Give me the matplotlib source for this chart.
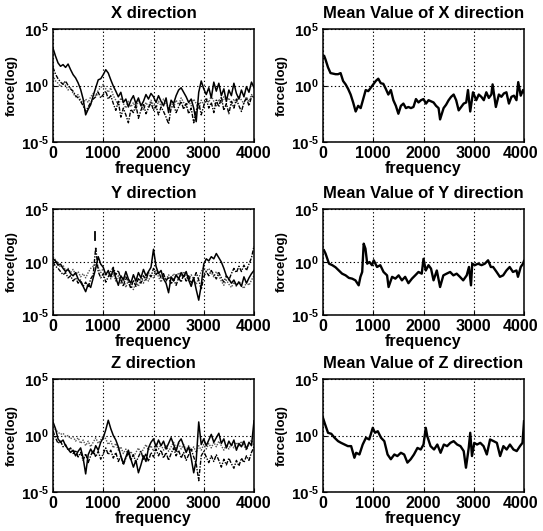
import numpy as np
import matplotlib
matplotlib.use("Agg")
import matplotlib.pyplot as plt
import matplotlib.transforms as mtransforms
from matplotlib.ticker import FixedLocator, NullLocator, FuncFormatter

plt.rcParams['font.family'] = ['Liberation Sans', 'DejaVu Sans']
plt.rcParams['font.weight'] = 'bold'
plt.rcParams['mathtext.fontset'] = 'custom'
plt.rcParams['mathtext.rm'] = 'Liberation Sans:bold'
plt.rcParams['mathtext.bf'] = 'Liberation Sans:bold'
plt.rcParams['mathtext.default'] = 'bf'

# ---------------- data (log10 of force) ----------------
freq50 = list(range(0, 4001, 50))

x_solid = [3.3, 2.6, 2.0, 1.7, 1.85, 1.6, 1.9, 1.4, 0.96, 0.67, 0.23, -0.35, -1.2, -2.6, -2.1, -1.7,
           -0.9, -0.2, 0.5, 0.6, 0.96, 1.4, 1.1, 0.5, -0.05, -0.5, -1.0, -0.6, -1.5, -1.2, -1.9, -1.3,
           -0.9, -1.6, -1.1, -1.8, -1.4, -0.8, -1.2, -0.7, -1.0, -1.5, -0.9, -1.4, -1.8, -1.1, -2.4,
           -1.3, -1.6, -0.9, -0.4, -0.2, -0.6, -1.0, -1.5, -1.2, -2.0, -3.2, -0.6, 0.4, -0.3, -0.8,
           -0.2, -1.1, 0.3, -0.5, 0.2, -0.9, -0.3, -1.4, -0.4, -0.9, 0.2, -0.7, -1.2, -0.4, -1.0,
           -0.1, -0.6, 0.3, -0.2]
x_dash = [1.6, 1.0, 0.6, 0.3, 0.1, 0.4, 0.0, -0.3, -0.5, -0.9, -1.1, -1.4, -1.8, -2.3, -1.9, -1.5,
          -1.2, -1.0, -0.6, -1.1, -0.8, -0.5, -1.2, -0.9, -1.6, -2.2, -1.4, -2.8, -2.0, -2.6, -3.3,
          -2.1, -2.4, -1.7, -2.9, -2.2, -1.6, -2.5, -2.0, -1.5, -2.2, -1.8, -2.6, -1.9, -2.3, -2.8,
          -3.4, -2.0, -1.7, -2.4, -1.9, -1.4, -2.1, -1.6, -2.5, -2.0, -3.3, -2.2, -1.5, -2.6, -1.8,
          -1.2, -2.0, -1.5, -2.4, -1.3, -1.9, -1.0, -2.2, -1.6, -2.5, -1.4, -2.0, -1.2, -1.8, -2.3,
          -1.5, -1.1, -1.8, -1.0, -0.9]
x_dot = [0.9, 0.4, 0.2, -0.1, 0.3, 0.0, -0.4, -0.2, -0.7, -1.0, -0.8, -1.3, -1.6, -1.2, -1.5, -1.0,
         -0.7, -0.9, -0.4, -0.2, 0.1, -0.3, -0.6, -0.2, -0.9, -1.3, -1.8, -1.1, -1.6, -2.0, -1.4,
         -1.9, -1.5, -2.1, -1.3, -1.7, -2.2, -1.5, -1.9, -1.3, -1.7, -2.0, -1.4, -1.8, -1.2, -1.6,
         -2.0, -1.5, -1.9, -1.3, -1.7, -1.1, -1.5, -1.9, -1.4, -1.8, -1.2, -1.6, -2.1, -1.3, -1.7,
         -1.1, -1.5, -0.9, -1.4, -1.8, -1.2, -1.6, -1.0, -1.4, -1.1, -1.7, -1.2, -1.5, -0.9, -1.3,
         -1.6, -1.0, -1.4, -0.8, -1.1]

y_solid = [0.3, 0.1, -0.3, -0.2, -0.6, -0.9, -0.7, -1.1, -1.3, -1.0, -1.6, -1.9, -2.3, -2.8, -2.1,
           -2.4, -1.5, -0.6, 0.5, -0.2, -0.5, -1.2, -0.8, -1.4, -0.7, -1.5, -2.2, -1.3, -1.7, -0.9,
           -1.6, -2.0, -1.2, -1.8, -1.0, -1.5, -0.7, -1.3, -0.9, -0.5, 1.2, -0.4, -1.1, -0.8, -1.6,
           -2.0, -2.9, -1.4, -1.8, -1.2, -1.6, -1.0, -1.4, -0.9, -1.7, -2.3, -1.5, -2.6, -3.6, -2.2,
           -0.2, 0.3, 0.1, 0.5, 0.3, 0.8, 0.4, 0.0, -0.6, -1.3, -1.6, -2.0, -1.7, -2.2, -1.9, -2.3,
           -1.4, -2.0, -1.5, -1.1, -0.8]
y_dash = [0.0, -0.4, -0.6, -0.9, -1.2, -1.0, -1.5, -1.3, -1.8, -1.5, -2.0, -1.7, -2.3, -1.9, -2.4,
          -1.6, -1.2, 1.4, -0.9, -1.5, -1.1, -1.9, -1.4, -0.9, -0.5, -1.2, -0.8, -1.6, -2.3, -1.4,
          -1.9, -2.5, -1.7, -2.3, -1.5, -2.0, -1.3, -1.7, -1.0, -1.4, -0.6, -1.2, -0.9, -1.5, -1.1,
          -1.8, -1.4, -2.1, -1.6, -2.2, -1.5, -1.9, -1.2, -1.8, -1.3, -2.0, -1.6, -1.0, -1.7, -2.6,
          -1.4, -0.9, -1.3, -0.8, -1.2, -1.6, -1.0, -1.5, -1.9, -1.3, -1.7, -1.1, -0.6, -1.0, -0.4,
          -0.9, -0.3, -0.8, -0.2, 0.4, 1.5]
y_dot = [0.5, 0.2, -0.1, -0.5, -0.3, -0.8, -0.6, -1.0, -0.7, -1.2, -0.9, -1.4, -1.1, -1.5, -1.0,
         -0.6, -0.4, -0.2, -0.5, -1.0, -0.6, -1.3, -0.9, -1.6, -1.1, -1.8, -1.3, -2.0, -1.4, -2.4,
         -1.7, -2.2, -2.6, -1.9, -2.3, -1.5, -2.0, -1.4, -1.8, -1.2, -1.5, -0.8, -1.4, -1.9, -1.3,
         -1.7, -1.2, -1.6, -1.1, -1.5, -1.0, -1.4, -0.9, -1.3, -1.8, -1.2, -1.6, -2.1, -1.5, -0.9,
         -0.5, -0.9, -0.6, -1.0, -1.4, -0.9, -1.3, -1.8, -2.2, -1.7, -2.1, -2.4, -1.9, -2.3, -1.8,
         -2.2, -2.5, -1.9, -2.2, -1.7, -1.3]
# isolated short spike segment near 830 Hz (Y direction)
y_spike_freq = [830, 830]
y_spike = [2.1, 2.8]

z_solid = [1.2, 0.6, -0.3, -0.6, -0.4, -0.9, -1.2, -1.5, -1.3, -1.8, -1.4, -1.1, -2.0, -3.4, -1.7,
           -1.2, -1.6, -0.9, -1.3, -0.6, -0.2, 0.5, 1.35, 0.6, 0.0, -0.4, -1.0, -1.8, -2.5, -1.9,
           -1.3, -2.1, -2.8, -2.2, -3.3, -2.6, -1.8, -2.3, -1.1, -0.6, -0.3, -1.0, -0.4, -0.9, -0.5,
           -1.2, -0.7, -0.2, -0.8, -1.4, -0.6, -0.3, -0.9, -1.5, -1.0, -2.0, -3.3, -2.2, 1.2, -0.8,
           -0.3, -0.9, -0.4, 0.1, -0.6, -0.2, 0.2, -0.7, -0.3, -1.1, -0.5, -0.9, -0.4, -1.3, -0.7,
           -1.0, -0.5, -1.2, -0.6, -0.9, 1.3]
z_dash = [0.4, -0.2, -0.7, -0.5, -1.0, -0.8, -1.3, -1.1, -1.6, -1.3, -1.9, -1.5, -2.2, -1.6, -2.4,
          -1.8, -1.3, -1.9, -1.4, -2.1, -1.6, -1.1, -1.7, -1.3, -2.0, -1.5, -2.3, -1.8, -2.6, -2.0,
          -1.5, -2.2, -1.7, -2.4, -1.9, -1.4, -2.1, -1.6, -2.3, -1.5, -1.9, -1.2, -1.8, -1.3, -2.0,
          -1.5, -2.2, -1.6, -1.1, -1.8, -1.3, -2.0, -1.5, -2.2, -1.7, -1.2, -1.9, -2.5, -4.0, -1.8,
          -1.4, -1.9, -2.4, -1.8, -2.3, -1.7, -2.2, -2.8, -2.1, -2.6, -2.0, -2.5, -2.9, -2.2, -2.7,
          -2.0, -2.4, -1.8, -2.2, -1.5, -1.0]
z_dot = [0.8, 0.5, 0.3, 0.1, 0.2, -0.1, 0.0, -0.3, -0.1, -0.5, -0.2, -0.7, -0.4, -0.9, -0.5, -1.0,
         -0.6, -0.2, -0.7, -0.4, 0.0, -0.3, -0.8, -0.5, -1.1, -0.7, -1.3, -1.0, -1.6, -1.2, -1.8,
         -1.4, -1.9, -1.5, -1.1, -1.6, -1.2, -0.8, -1.3, -0.9, -1.4, -0.7, -1.2, -0.8, -1.3, -0.9,
         -1.4, -1.0, -0.6, -1.1, -0.7, -1.2, -0.8, -1.3, -0.9, -1.4, -1.0, -1.5, -0.9, -1.3, -0.8,
         -1.2, -0.7, -1.1, -0.6, -1.0, -0.5, -0.9, -1.3, -0.8, -1.2, -0.7, -1.1, -0.6, -1.0, -0.5,
         -0.9, -1.3, -0.8, -0.4, -0.9]

mean_x_freq = [25, 50, 100, 150, 200, 250, 300, 350, 400, 450, 500, 550, 600, 650, 700, 750, 800,
               850, 900, 950, 1000, 1050, 1100, 1150, 1200, 1250, 1300, 1350, 1400, 1450, 1500,
               1550, 1600, 1650, 1700, 1750, 1800, 1850, 1900, 1950, 2000, 2050, 2100, 2150, 2200,
               2250, 2300, 2330, 2400, 2450, 2500, 2550, 2600, 2650, 2700, 2750, 2800, 2850, 2885,
               2930, 2985, 3050, 3100, 3150, 3200, 3250, 3300, 3350, 3375, 3440, 3500, 3550, 3600,
               3650, 3700, 3750, 3800, 3850, 3885, 3935, 3980, 4000]
mean_x = [2.6, 2.3, 1.6, 1.1, 1.05, 1.0, 1.0, 1.1, 0.4, 0.1, -0.3, -0.8, -1.5, -2.3, -1.8, -2.0,
          -1.2, -0.4, -0.5, -0.2, 0.1, 0.4, 0.6, 0.2, 0.15, -0.3, -0.8, -0.4, -1.3, -1.8, -2.5,
          -1.8, -1.6, -2.0, -1.9, -2.0, -1.9, -1.2, -1.5, -1.3, -1.2, -1.6, -1.3, -1.4, -1.5, -1.8,
          -2.0, -3.0, -2.0, -1.7, -1.3, -1.0, -0.8, -1.3, -2.2, -1.9, -1.6, -1.5, -0.4, -2.3, -0.6,
          -1.3, -0.8, -1.0, -1.3, -0.6, -1.1, -0.8, 0.1, -1.9, -0.8, -1.0, -0.7, -0.6, -1.6, -1.0,
          -0.9, -1.3, 0.3, -0.9, -0.4, -0.6]

mean_y_freq = [20, 50, 120, 185, 250, 315, 380, 450, 515, 580, 645, 710, 745, 780, 810, 845, 880,
               925, 975, 1010, 1075, 1140, 1205, 1275, 1305, 1375, 1440, 1505, 1570, 1635, 1700,
               1770, 1835, 1900, 1965, 2000, 2045, 2100, 2150, 2200, 2265, 2330, 2395, 2460, 2530,
               2595, 2660, 2725, 2790, 2860, 2905, 2945, 2970, 3020, 3085, 3155, 3220, 3285, 3340,
               3385, 3455, 3520, 3585, 3650, 3715, 3780, 3850, 3880, 3935, 3980, 4000]
mean_y = [1.1, 0.8, -0.16, -0.3, -0.5, -0.8, -1.1, -1.26, -1.5, -1.57, -1.73, -2.2, -1.4, -0.94,
          1.73, 1.26, -0.16, 0.0, -0.3, 0.16, -0.47, -0.3, -0.94, -1.26, -2.36, -1.4, -1.57, -1.26,
          -1.73, -1.4, -2.0, -1.57, -1.26, -0.94, -1.1, 0.3, -0.8, -0.3, -0.63, -1.73, -0.8, -2.36,
          -1.26, -1.1, -0.94, -1.26, -1.1, -1.4, -1.73, -1.26, -0.47, -2.2, -0.16, -0.3, -0.16,
          -0.3, -0.16, 0.16, -0.47, -0.47, -0.94, -1.4, -1.26, -0.8, -0.47, -0.94, -0.8, -1.4,
          -0.47, -0.16, 0.1]

mean_z_freq = [0, 33, 100, 165, 230, 300, 360, 430, 495, 560, 625, 660, 725, 790, 855, 920, 990,
               1035, 1090, 1155, 1220, 1285, 1350, 1420, 1480, 1550, 1615, 1680, 1745, 1810, 1880,
               1945, 2000, 2045, 2075, 2140, 2210, 2275, 2340, 2405, 2470, 2535, 2600, 2670, 2735,
               2800, 2845, 2900, 2930, 2965, 3010, 3065, 3130, 3195, 3260, 3325, 3395, 3460, 3525,
               3590, 3655, 3720, 3790, 3855, 3920, 3970, 4000]
mean_z = [1.56, 1.1, 0.24, 0.15, -0.2, -0.5, -0.65, -0.8, -0.94, -0.94, -1.97, -1.53, -1.68, -0.8,
          -0.2, -0.35, 0.68, 0.24, 0.38, -0.2, -0.5, -1.68, -2.1, -1.68, -1.82, -1.53, -1.68, -2.4,
          -2.1, -1.68, -1.1, -1.24, -0.8, 0.68, -0.06, -0.94, -1.24, -0.8, -1.53, -0.8, -0.94,
          -0.65, -0.5, -0.8, -0.94, -1.38, -2.85, -1.1, 0.24, -1.82, -0.65, -0.8, -0.65, -0.94,
          -1.68, -0.35, -0.5, -0.65, -1.82, -0.94, -1.24, -0.8, -1.24, -1.38, -0.94, -0.65, 1.26]

titles_left = ["X direction", "Y direction", "Z direction"]
titles_right = ["Mean Value of X direction", "Mean Value of Y direction", "Mean Value of Z direction"]
xticks = [0, 1000, 2000, 3000, 4000]
yticks = [1e-5, 1e0, 1e5]

# ---------------- layout ----------------
W, H = 543, 531
fig = plt.figure(figsize=(W / 100, H / 100), dpi=100)
fig.patch.set_facecolor('white')

col_px = [(53, 254), (323, 524)]
row_px = [(29, 142), (209, 315), (379, 492)]

def make_ax(c, r):
    x0, x1 = col_px[c]
    y0, y1 = row_px[r]
    return fig.add_axes([x0 / W, 1 - y1 / H, (x1 - x0) / W, (y1 - y0) / H])

def fmt(v, pos):
    e = int(round(np.log10(v)))
    if e < 0:
        return r'$10^{\text{-}%d}$' % (-e)
    return r'$10^{%d}$' % e

def style(ax, title, right_col):
    ax.set_yscale('log')
    ax.set_xlim(0, 4000)
    ax.set_ylim(1e-5, 1e5)
    ax.xaxis.set_major_locator(FixedLocator(xticks))
    ax.yaxis.set_major_locator(FixedLocator(yticks))
    ax.yaxis.set_minor_locator(NullLocator())
    ax.xaxis.set_minor_locator(NullLocator())
    ax.yaxis.set_major_formatter(FuncFormatter(fmt))
    ax.tick_params(direction='in', length=3, width=0.8, labelsize=11.5, pad=3)
    ax.tick_params(axis='y', labelsize=11)
    for lab in ax.get_xticklabels() + ax.get_yticklabels():
        lab.set_fontweight('bold')
    if right_col:
        lab = ax.get_xticklabels()[-1]
        lab.set_transform(lab.get_transform() +
                          mtransforms.ScaledTranslation(-3 / 100, 0, fig.dpi_scale_trans))
    ax.grid(True, which='major', linestyle=(0, (1.2, 2.2)), color='black', linewidth=0.8)
    for s in ax.spines.values():
        s.set_linewidth(1.1)
    ax.set_title(title, fontsize=12, fontweight='bold', pad=8)
    ax.set_xlabel('frequency', fontsize=11.5, fontweight='bold', labelpad=0)
    ax.set_ylabel('force(log)', fontsize=9.5, fontweight='bold', labelpad=2)

f = np.array(freq50)
left_sets = [(x_solid, x_dash, x_dot), (y_solid, y_dash, y_dot), (z_solid, z_dash, z_dot)]
right_sets = [(mean_x_freq, mean_x), (mean_y_freq, mean_y), (mean_z_freq, mean_z)]

for r in range(3):
    ax = make_ax(0, r)
    s, d, o = left_sets[r]
    ax.plot(f, 10 ** np.array(o), color='#555555', linestyle=(0, (1, 1)), linewidth=1.0)
    ax.plot(f, 10 ** np.array(d), color='black', linestyle=(0, (3, 1, 1, 1)), linewidth=1.0)
    ax.plot(f, 10 ** np.array(s), color='black', linestyle='-', linewidth=1.1)
    if r == 1:
        ax.plot(y_spike_freq, 10 ** np.array(y_spike), color='black', linewidth=1.3)
    style(ax, titles_left[r], False)

    ax = make_ax(1, r)
    fr, mv = right_sets[r]
    ax.plot(fr, 10 ** np.array(mv), color='black', linewidth=1.7)
    style(ax, titles_right[r], True)

fig.savefig('out.png', dpi=100, facecolor='white')
